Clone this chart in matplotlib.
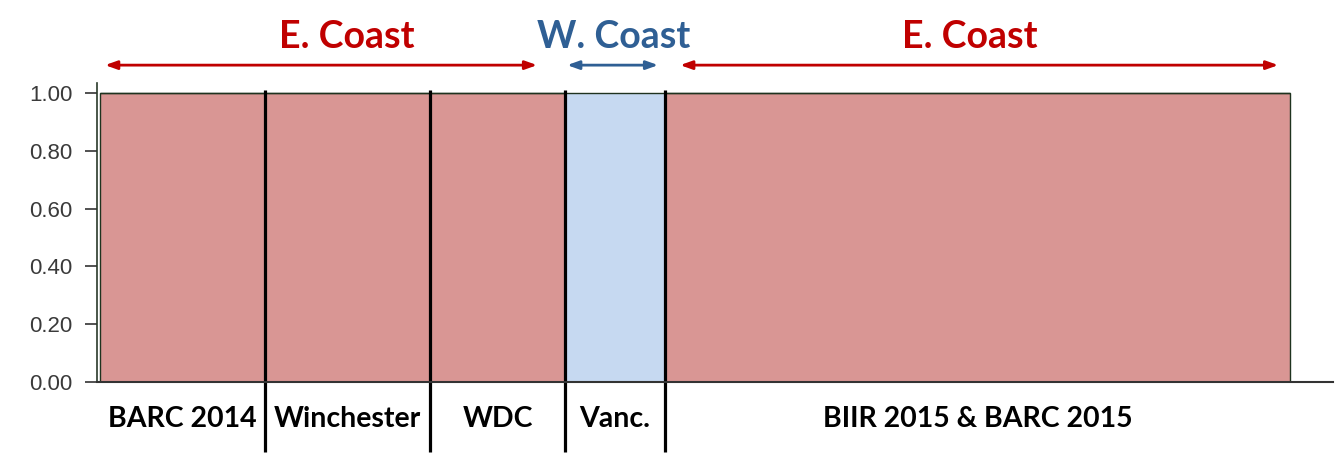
import matplotlib.pyplot as plt
import numpy as np

# groups (sample widths) and cluster membership
groups = ["BARC 2014", "Winchester", "WDC", "Vanc.", "BIIR 2015 & BARC 2015"]
sizes = [33, 33, 27, 20, 125]
q_east = [1.0, 1.0, 1.0, 0.0, 1.0]
q_west = [0.0, 0.0, 0.0, 1.0, 0.0]

yticks = [0.0, 0.2, 0.4, 0.6, 0.8, 1.0]

# region annotations: label, arrow start, arrow end, label x, colour
regions = [
    ("E. Coast", 1.0, 87.4, 49.4, "#c00000"),
    ("W. Coast", 93.4, 111.6, 102.6, "#2f5f94"),
    ("E. Coast", 116.0, 235.6, 174.0, "#c00000"),
]

RED = "#d99694"
BLUE = "#c6d9f1"

edges = np.concatenate([[0], np.cumsum(sizes)])
lefts = edges[:-1]
centers = lefts + np.array(sizes) / 2

fig = plt.figure(figsize=(13.35, 4.62), dpi=100)
ax = fig.add_axes([0.0727, 0.1732, 0.926, 0.647])

ax.bar(lefts, q_east, width=sizes, align="edge", color=RED,
       edgecolor="#1f331f", linewidth=1)
ax.bar(lefts, q_west, width=sizes, bottom=q_east, align="edge", color=BLUE,
       edgecolor="#1f331f", linewidth=1)

ax.set_xlim(-0.6, 246.6)
ax.set_ylim(0, 1.035)
ax.set_yticks(yticks)
ax.set_yticklabels([f"{v:.2f}" for v in yticks], family="Liberation Sans",
                   fontsize=16, color="#3a3a3a")
ax.tick_params(axis="y", length=8.5, width=1.2, color="#333333", pad=9)
ax.set_xticks([])

for s in ["top", "right"]:
    ax.spines[s].set_visible(False)
ax.spines["left"].set_color("#2a3a2a")
ax.spines["bottom"].set_color("#333333")
ax.spines["left"].set_linewidth(1.2)
ax.spines["bottom"].set_linewidth(1.5)

# divider lines between groups
for b in edges[1:-1]:
    ax.plot([b, b], [-0.234, 0.977], transform=ax.get_xaxis_transform(),
            color="black", lw=2.3, clip_on=False, solid_capstyle="butt")

# group labels
for c, name in zip(centers, groups):
    ax.text(c, -0.125, name, transform=ax.get_xaxis_transform(), ha="center",
            va="center", family="Lato", fontweight="bold", fontsize=20.5,
            color="black")

# coast annotations
for name, x0, x1, xt, col in regions:
    ax.annotate("", xy=(x0, 1.06), xytext=(x1, 1.06),
                xycoords=("data", "axes fraction"),
                textcoords=("data", "axes fraction"),
                arrowprops=dict(arrowstyle="<|-|>,head_length=0.7,head_width=0.25",
                                color=col, lw=2, shrinkA=0, shrinkB=0))
    ax.text(xt, 1.155, name, transform=ax.get_xaxis_transform(), ha="center",
            va="center", family="Lato", fontweight="bold", fontsize=27, color=col)

fig.savefig("out.png", dpi=100)
